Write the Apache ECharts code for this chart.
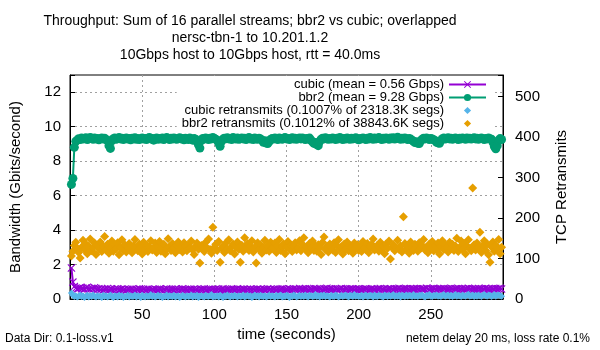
<!DOCTYPE html>
<html>
<head>
<meta charset="utf-8">
<script src="https://cdn.jsdelivr.net/npm/echarts@6/dist/echarts.min.js"></script>
<style>
  html, body { margin: 0; padding: 0; background: #fff; }
  #main { width: 600px; height: 350px; }
</style>
</head>
<body>
<div id="main"></div>
<script>
var chartDom = document.getElementById('main')
var myChart = echarts.init(chartDom, null, { renderer: 'canvas' })

// one sample per second, t = 1 .. 299
const cubicBw = [
  1.80, 0.98, 0.72, 0.62, 0.58, 0.61, 0.66, 0.59, 0.63, 0.57, 0.64, 0.68, 0.60, 0.55, 0.62, 0.58, 0.65, 0.61, 0.56, 0.60,
  0.54, 0.59, 0.52, 0.57, 0.55, 0.61, 0.53, 0.58, 0.56, 0.50, 0.57, 0.54, 0.60, 0.52, 0.55, 0.58, 0.53, 0.56, 0.51, 0.57,
  0.55, 0.52, 0.58, 0.54, 0.49, 0.56, 0.53, 0.59, 0.55, 0.51, 0.57, 0.54, 0.52, 0.58, 0.55, 0.50, 0.56, 0.53, 0.57, 0.54,
  0.52, 0.58, 0.55, 0.49, 0.56, 0.53, 0.60, 0.54, 0.51, 0.57, 0.55, 0.52, 0.58, 0.54, 0.56, 0.50, 0.55, 0.59, 0.53, 0.56,
  0.54, 0.51, 0.57, 0.55, 0.52, 0.58, 0.53, 0.56, 0.50, 0.55, 0.57, 0.53, 0.59, 0.54, 0.52, 0.56, 0.55, 0.51, 0.57, 0.54,
  0.56, 0.53, 0.58, 0.52, 0.55, 0.60, 0.54, 0.51, 0.57, 0.55, 0.53, 0.58, 0.56, 0.52, 0.55, 0.59, 0.54, 0.57, 0.53, 0.56,
  0.55, 0.52, 0.57, 0.54, 0.58, 0.53, 0.56, 0.51, 0.55, 0.58, 0.54, 0.56, 0.52, 0.57, 0.55, 0.53, 0.59, 0.54, 0.56, 0.52,
  0.57, 0.55, 0.53, 0.58, 0.54, 0.56, 0.60, 0.55, 0.52, 0.57, 0.54, 0.58, 0.56, 0.53, 0.59, 0.55, 0.57, 0.54, 0.61, 0.56,
  0.58, 0.55, 0.60, 0.56, 0.53, 0.59, 0.57, 0.54, 0.61, 0.56, 0.58, 0.55, 0.60, 0.57, 0.54, 0.59, 0.56, 0.62, 0.57, 0.55,
  0.59, 0.56, 0.54, 0.60, 0.57, 0.55, 0.58, 0.61, 0.56, 0.54, 0.59, 0.57, 0.55, 0.60, 0.56, 0.58, 0.53, 0.57, 0.55, 0.59,
  0.56, 0.54, 0.58, 0.55, 0.60, 0.57, 0.53, 0.56, 0.59, 0.55, 0.57, 0.54, 0.58, 0.56, 0.61, 0.55, 0.57, 0.59, 0.54, 0.58,
  0.56, 0.60, 0.57, 0.54, 0.59, 0.56, 0.58, 0.62, 0.57, 0.55, 0.59, 0.56, 0.60, 0.58, 0.55, 0.61, 0.57, 0.59, 0.56, 0.60,
  0.58, 0.55, 0.61, 0.57, 0.59, 0.56, 0.62, 0.58, 0.55, 0.60, 0.57, 0.63, 0.58, 0.56, 0.60, 0.57, 0.59, 0.55, 0.61, 0.58,
  0.56, 0.60, 0.57, 0.62, 0.58, 0.55, 0.59, 0.57, 0.61, 0.56, 0.58, 0.60, 0.55, 0.59, 0.57, 0.62, 0.58, 0.56, 0.60, 0.57,
  0.59, 0.55, 0.61, 0.57, 0.60, 0.56, 0.58, 0.62, 0.57, 0.59, 0.55, 0.60, 0.58, 0.56, 0.61, 0.57, 0.59, 0.63, 0.58
]

const bbr2Bw = [
  6.65, 7.00, 8.80, 9.15, 9.22, 9.30, 9.26, 9.34, 9.28, 9.31, 9.36, 9.25, 9.30, 9.38, 9.33, 9.27, 9.35, 9.29, 9.32, 9.24,
  9.30, 9.35, 9.28, 9.33, 9.26, 9.20, 8.90, 8.74, 9.18, 9.30, 9.34, 9.27, 9.31, 9.37, 9.29, 9.33, 9.26, 9.32, 9.35, 9.28,
  9.31, 9.24, 9.33, 9.29, 9.36, 9.27, 9.32, 9.25, 9.30, 9.34, 9.28, 9.31, 9.26, 9.33, 9.37, 9.29, 9.32, 9.22, 9.30, 9.35,
  9.27, 9.32, 9.29, 9.34, 9.26, 9.31, 9.38, 9.30, 9.25, 9.33, 9.28, 9.35, 9.30, 9.27, 9.32, 9.36, 9.29, 9.31, 9.24, 9.33,
  9.30, 9.26, 9.34, 9.29, 9.22, 9.31, 9.27, 9.12, 8.95, 8.76, 9.20, 9.32, 9.28, 9.35, 9.30, 9.26, 9.33, 9.29, 9.37, 9.31,
  9.27, 9.22, 9.05, 8.86, 9.15, 9.28, 9.33, 9.30, 9.36, 9.29, 9.32, 9.26, 9.38, 9.31, 9.28, 9.34, 9.27, 9.30, 9.35, 9.29,
  9.33, 9.26, 9.31, 9.37, 9.28, 9.32, 9.25, 9.34, 9.30, 9.27, 9.33, 9.29, 9.22, 9.10, 9.18, 9.05, 9.02, 9.14, 9.26, 9.31,
  9.28, 9.34, 9.30, 9.26, 9.35, 9.31, 9.27, 9.33, 9.38, 9.29, 9.32, 9.25, 9.30, 9.36, 9.28, 9.33, 9.27, 9.31, 9.34, 9.29,
  9.35, 9.30, 9.26, 9.32, 9.28, 9.34, 9.21, 9.12, 9.03, 9.08, 8.96, 8.90, 9.15, 9.27, 9.33, 9.29, 9.36, 9.30, 9.27, 9.32,
  9.28, 9.34, 9.31, 9.26, 9.33, 9.29, 9.37, 9.30, 9.25, 9.32, 9.28, 9.35, 9.30, 9.27, 9.33, 9.29, 9.31, 9.36, 9.28, 9.24,
  9.32, 9.29, 9.35, 9.30, 9.26, 9.33, 9.28, 9.37, 9.31, 9.27, 9.34, 9.29, 9.32, 9.38, 9.30, 9.26, 9.33, 9.29, 9.35, 9.31,
  9.27, 9.34, 9.30, 9.36, 9.28, 9.32, 9.39, 9.31, 9.27, 9.33, 9.29, 9.35, 9.30, 9.26, 9.31, 9.28, 9.22, 9.15, 9.08, 9.12,
  9.04, 9.02, 9.18, 9.27, 9.33, 9.29, 9.35, 9.30, 9.26, 9.32, 9.28, 9.24, 9.19, 9.10, 9.06, 9.04, 9.20, 9.30, 9.34, 9.28,
  9.31, 9.36, 9.29, 9.33, 9.27, 9.32, 9.35, 9.30, 9.26, 9.33, 9.29, 9.34, 9.31, 9.27, 9.35, 9.30, 9.33, 9.28, 9.32, 9.36,
  9.29, 9.33, 9.27, 9.31, 9.35, 9.30, 9.26, 9.32, 9.29, 9.34, 9.30, 9.27, 9.10, 8.85, 8.72, 8.90, 9.22, 9.31, 9.26
]

const cubicRetrans = [
  15, 9, 6, 8, 5, 7, 10, 6, 8, 4, 7, 9, 5, 8, 6, 10, 7, 5, 8, 6,
  7, 4, 9, 6, 8, 5, 7, 10, 6, 4, 8, 7, 5, 9, 6, 8, 4, 7, 6, 9,
  5, 8, 6, 7, 10, 5, 8, 6, 4, 9, 7, 5, 8, 6, 7, 11, 6, 8, 5, 7,
  9, 6, 8, 4, 7, 6, 10, 5, 8, 7, 6, 9, 5, 7, 8, 4, 6, 9, 7, 5,
  8, 6, 7, 10, 5, 8, 6, 9, 4, 7, 8, 6, 5, 9, 7, 6, 8, 11, 5, 7,
  6, 8, 5, 9, 7, 4, 8, 6, 10, 7, 5, 8, 6, 9, 7, 5, 8, 6, 7, 10,
  5, 7, 9, 6, 8, 4, 7, 10, 6, 8, 5, 9, 7, 6, 8, 5, 7, 9, 6, 8,
  7, 5, 9, 6, 8, 10, 5, 7, 6, 9, 8, 4, 7, 6, 10, 8, 5, 7, 9, 6,
  8, 6, 10, 7, 5, 9, 8, 6, 7, 11, 6, 8, 5, 9, 7, 10, 6, 8, 7, 5,
  9, 7, 6, 10, 8, 5, 7, 9, 6, 8, 10, 7, 5, 9, 8, 6, 11, 7, 8, 6,
  7, 9, 5, 8, 10, 6, 7, 9, 8, 5, 10, 7, 6, 9, 8, 7, 5, 10, 8, 6,
  9, 7, 8, 11, 6, 8, 7, 10, 5, 9, 8, 6, 10, 7, 9, 8, 6, 11, 7, 8,
  6, 9, 8, 10, 7, 5, 9, 8, 11, 7, 6, 9, 8, 10, 7, 8, 6, 9, 11, 7,
  8, 10, 7, 9, 6, 8, 11, 7, 9, 8, 6, 10, 8, 7, 9, 12, 7, 8, 10, 6,
  9, 7, 10, 8, 6, 9, 11, 8, 7, 10, 9, 6, 8, 11, 7, 9, 10, 8, 7
]

const bbr2Retrans = [
  106, 118, 132, 140, 125, 115, 101, 128, 145, 122, 136, 112, 130, 148, 119, 127, 138, 110, 133, 124,
  141, 117, 129, 154, 121, 135, 113, 126, 143, 118, 131, 124, 139, 109, 127, 146, 120, 134, 116, 129,
  137, 122, 114, 131, 147, 125, 119, 136, 128, 111, 140, 123, 133, 117, 129, 144, 121, 126, 138, 115,
  130, 142, 118, 127, 135, 112, 124, 149, 129, 120, 137, 126, 114, 133, 141, 122, 128, 116, 139, 131,
  119, 134, 125, 143, 121, 110, 130, 138, 123, 89, 132, 127, 117, 140, 126, 148, 122, 113, 177, 128,
  135, 120, 142, 91, 126, 131, 115, 138, 124, 146, 119, 129, 136, 111, 127, 141, 123, 91, 133, 118,
  151, 125, 137, 120, 130, 144, 116, 128, 89, 139, 122, 134, 113, 127, 145, 121, 132, 118, 140, 126,
  124, 138, 115, 131, 147, 120, 129, 136, 112, 127, 142, 123, 133, 117, 130, 139, 121, 126, 144, 119,
  135, 151, 124, 129, 114, 137, 126, 143, 120, 131, 118, 134, 127, 110, 140, 153, 122, 130, 116, 136,
  128, 121, 139, 115, 132, 146, 124, 129, 111, 136, 123, 141, 119, 130, 127, 113, 138, 125, 134, 120,
  131, 117, 142, 126, 122, 137, 114, 129, 135, 148, 121, 127, 133, 118, 140, 124, 130, 112, 136, 125,
  143, 99, 128, 134, 119, 126, 145, 122, 131, 116, 203, 137, 124, 129, 113, 141, 127, 120, 135, 130,
  118, 139, 125, 132, 147, 121, 128, 114, 136, 126, 142, 119, 131, 123, 138, 111, 129, 144, 122, 133,
  127, 116, 140, 124, 135, 120, 131, 150, 117, 128, 143, 122, 137, 112, 130, 146, 125, 119, 274, 134,
  121, 138, 127, 165, 115, 132, 144, 120, 136, 109, 91, 129, 141, 118, 133, 125, 147, 112, 128
]

const seriesNames = [
  'cubic (mean = 0.56 Gbps)',
  'bbr2 (mean = 9.28 Gbps)',
  'cubic retransmits (0.1007% of 2318.3K segs)',
  'bbr2 retransmits (0.1012% of 38843.6K segs)'
]
const colors = ['#9400d3', '#009e73', '#56b4e9', '#e69f00']

const font = 'Liberation Sans, Arial, sans-serif'
const crossSymbol = 'path://M0,1L1,0L5,4L9,0L10,1L6,5L10,9L9,10L5,6L1,10L0,9L4,5Z'

const withTime = arr => arr.map((v, i) => [i + 1, v])

var option = {
  animation: false,
  backgroundColor: '#fff',
  textStyle: { fontFamily: font },
  title: [
    {
      text: 'Throughput: Sum of 16 parallel streams; bbr2 vs cubic; overlapped\nnersc-tbn-1 to 10.201.1.2\n10Gbps host to 10Gbps host, rtt = 40.0ms',
      left: 245,
      top: 8,
      textAlign: 'center',
      textStyle: { fontFamily: font, fontSize: 14, fontWeight: 'normal', color: '#000', lineHeight: 16.7 }
    },
    {
      text: 'Data Dir: 0.1-loss.v1',
      left: 0,
      top: 328,
      textStyle: { fontFamily: font, fontSize: 12, fontWeight: 'normal', color: '#000' }
    },
    {
      text: 'netem delay 20 ms, loss rate 0.1%',
      right: 5,
      top: 328,
      textStyle: { fontFamily: font, fontSize: 12, fontWeight: 'normal', color: '#000' }
    }
  ],
  legend: {
    data: seriesNames,
    orient: 'vertical',
    align: 'right',
    right: 108,
    top: 76,
    padding: [2, 5, 2, 5],
    itemGap: 0,
    itemWidth: 37,
    itemHeight: 9,
    backgroundColor: '#fff',
    textStyle: { fontFamily: font, fontSize: 13, color: '#000', lineHeight: 13 }
  },
  grid: {
    left: 65,
    right: 97,
    top: 75,
    bottom: 51,
    show: true,
    borderColor: '#000',
    borderWidth: 1
  },
  xAxis: {
    type: 'value',
    min: 0,
    max: 300,
    interval: 50,
    name: 'time (seconds)',
    nameLocation: 'middle',
    nameGap: 27,
    nameTextStyle: { fontFamily: font, fontSize: 15, color: '#000' },
    axisLine: { show: true, lineStyle: { color: '#000', width: 1 } },
    axisTick: { show: true, inside: true, length: 5, lineStyle: { color: '#000' } },
    axisLabel: {
      fontFamily: font, fontSize: 15, color: '#000', margin: 8,
      formatter: v => (v > 0 && v < 300 ? String(v) : '')
    },
    splitLine: {
      show: true, showMinLine: false, showMaxLine: false,
      lineStyle: { color: '#a0a0a0', type: [2, 3], width: 1 }
    }
  },
  yAxis: [
    {
      type: 'value',
      min: 0,
      max: 13,
      interval: 2,
      name: 'Bandwidth (Gbits/second)',
      nameLocation: 'middle',
      nameGap: 47,
      nameTextStyle: { fontFamily: font, fontSize: 15, color: '#000' },
      axisLine: { show: true, lineStyle: { color: '#000', width: 1 } },
      axisTick: { show: true, inside: true, length: 5, lineStyle: { color: '#000' } },
      axisLabel: {
        fontFamily: font, fontSize: 15, color: '#000', margin: 9,
        formatter: v => (v % 2 === 0 ? String(v) : '')
      },
      splitLine: {
        show: true, showMinLine: false, showMaxLine: false,
        lineStyle: { color: '#a0a0a0', type: [2, 3], width: 1 }
      }
    },
    {
      type: 'value',
      position: 'right',
      min: 0,
      max: 553,
      interval: 100,
      name: 'TCP Retransmits',
      nameLocation: 'middle',
      nameGap: 51,
      nameTextStyle: { fontFamily: font, fontSize: 15, color: '#000' },
      axisLine: { show: true, lineStyle: { color: '#000', width: 1 } },
      axisTick: { show: true, inside: true, length: 5, lineStyle: { color: '#000' } },
      axisLabel: {
        fontFamily: font, fontSize: 15, color: '#000', margin: 12,
        formatter: v => (v % 100 === 0 ? String(v) : '')
      },
      splitLine: { show: false }
    }
  ],
  series: [
    {
      name: seriesNames[0],
      type: 'line',
      yAxisIndex: 0,
      data: withTime(cubicBw),
      symbol: crossSymbol,
      symbolSize: 8,
      itemStyle: { color: colors[0] },
      lineStyle: { color: colors[0], width: 2 }
    },
    {
      name: seriesNames[1],
      type: 'line',
      yAxisIndex: 0,
      data: withTime(bbr2Bw),
      symbol: 'circle',
      symbolSize: 9,
      itemStyle: { color: colors[1] },
      lineStyle: { color: colors[1], width: 2 }
    },
    {
      name: seriesNames[2],
      type: 'line',
      yAxisIndex: 1,
      data: withTime(cubicRetrans),
      symbol: 'diamond',
      symbolSize: 7,
      itemStyle: { color: colors[2] },
      lineStyle: { color: 'rgba(0,0,0,0)', width: 1 }
    },
    {
      name: seriesNames[3],
      type: 'line',
      yAxisIndex: 1,
      data: withTime(bbr2Retrans),
      symbol: 'diamond',
      symbolSize: 9,
      itemStyle: { color: colors[3] },
      lineStyle: { color: 'rgba(0,0,0,0)', width: 1 }
    }
  ]
}

option && myChart.setOption(option)
</script>
</body>
</html>
